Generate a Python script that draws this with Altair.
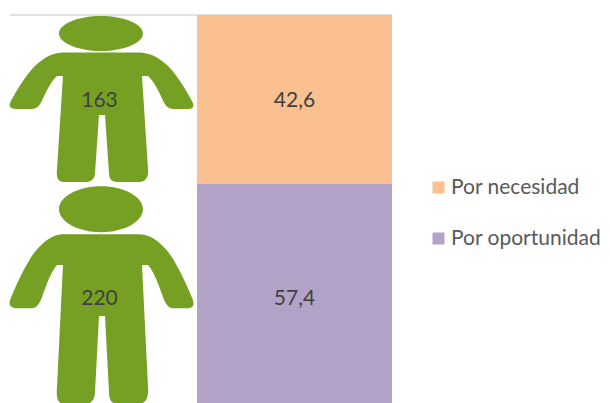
import re
import altair as alt
import pandas as pd

# Values
categorias = ["Por necesidad", "Por oportunidad"]
personas = [163, 220]
porcentajes = [42.6, 57.4]
columnas = ["Personas", "Porcentaje"]
colores = ["#FAC090", "#B3A2C7"]

VERDE = "#76A023"
FUENTE = "Lato"

# Outline of the person pictogram, in a local frame centred on the figure
CABEZA = "M-42 -65.5C-42 -75 -23 -83 0 -83C23 -83 42 -75 42 -65.5C42 -56 23 -48 0 -48C-23 -48 -42 -56 -42 -65.5Z"
CUERPO = (
    "M-39 -46.5L39 -46.5C50 -46 58 -41 66 -34C74 -27 86 -8 92 4C94 9 90 10 86 10L72 10C67 10 64 6 62 1.5"
    "C58 -7 53 -18 47 -23L41 -23L47 70C48 79 44 83 38 83L16 83C10 83 8 79 8 74"
    "L4 16L-2 16L-6 74C-6 79 -9 83 -15 83L-37 83C-43 83 -45 79 -44 70L-38 -23L-44 -23"
    "C-50 -18 -55 -7 -59 1.5C-61 6 -64 10 -69 10L-83 10C-88 10 -93 9 -91 4C-85 -8 -73 -27 -65 -34C-57 -41 -49 -46 -39 -46.5Z"
)
MEDIA_CAJA = 130.0
AJUSTE_X = 1.5


def figura(estira, desplaza):
    def conv(m):
        nums = [float(v) for v in re.findall(r"-?\d+\.?\d*", m.group(2))]
        out = []
        for i, v in enumerate(nums):
            if i % 2 == 0:
                out.append(f"{(v + AJUSTE_X) / MEDIA_CAJA:.4f}")
            else:
                out.append(f"{(v * estira + desplaza) / MEDIA_CAJA:.4f}")
        return m.group(1) + " ".join(out)

    return re.sub(r"([MLC])([^MLCZ]+)", conv, CABEZA + CUERPO)


formas = [figura(1.0, -0.5), figura(1.31, -2.8)]

filas = []
acumulado = 0.0
for c, n, p in zip(categorias, personas, porcentajes):
    filas.append(
        {
            "categoria": c,
            "personas": n,
            "porcentaje": p,
            "inicio": acumulado,
            "fin": acumulado + p,
            "centro": acumulado + p / 2,
            "etiqueta": f"{p:.1f}".replace(".", ","),
        }
    )
    acumulado += p
df = pd.DataFrame(filas)

esc_x = alt.Scale(domain=columnas, range=[-6, 384], paddingInner=0, paddingOuter=0)
esc_y = alt.Scale(domain=[0, 97.8], range=[7, 395])

base = alt.Chart(df)

linea = base.transform_filter("datum.inicio == 0").mark_rule(color="#D9D9D9", strokeWidth=1.5).encode(
    y=alt.Y("inicio:Q", scale=esc_y, axis=None),
    x=alt.value(2),
    x2=alt.value(384),
)

barras = base.mark_bar(clip=True, strokeWidth=0).encode(
    x=alt.datum("Porcentaje", type="nominal", scale=esc_x, axis=None),
    y=alt.Y("inicio:Q", scale=esc_y, axis=None),
    y2="fin:Q",
    color=alt.Color(
        "categoria:N",
        scale=alt.Scale(domain=categorias, range=colores),
        legend=alt.Legend(
            orient="none",
            legendX=420,
            legendY=169,
            title=None,
            symbolType="square",
            symbolSize=144,
            symbolStrokeWidth=0,
            symbolOpacity=1,
            labelFont=FUENTE,
            labelFontSize=21,
            labelColor="#595959",
            labelOffset=2,
            rowPadding=29,
            labelLimit=300,
        ),
    ),
)

figuras = base.mark_point(filled=True, opacity=1, color=VERDE, strokeWidth=0, size=(2 * MEDIA_CAJA) ** 2, clip=True).encode(
    x=alt.datum("Personas", type="nominal", scale=esc_x, axis=None),
    y=alt.Y("centro:Q", scale=esc_y, axis=None),
    shape=alt.Shape("categoria:N", scale=alt.Scale(domain=categorias, range=formas), legend=None),
)

txt_personas = base.mark_text(font=FUENTE, fontSize=21, color="#404040", dy=1.5).encode(
    x=alt.datum("Personas", type="nominal", scale=esc_x, axis=None),
    y=alt.Y("centro:Q", scale=esc_y, axis=None),
    text="personas:Q",
)

txt_pct = base.mark_text(font=FUENTE, fontSize=21, color="#404040", dy=1.5).encode(
    x=alt.datum("Porcentaje", type="nominal", scale=esc_x, axis=None),
    y=alt.Y("centro:Q", scale=esc_y, axis=None),
    text="etiqueta:N",
)

chart = (
    alt.layer(linea, barras, figuras, txt_personas, txt_pct)
    .resolve_scale(shape="independent")
    .properties(width=594, height=395, padding=0, autosize=alt.AutoSizeParams(type="none"), background="white")
    .configure_view(stroke=None)
)

chart.save("out.html", embed_options={"renderer": "svg", "actions": False})
